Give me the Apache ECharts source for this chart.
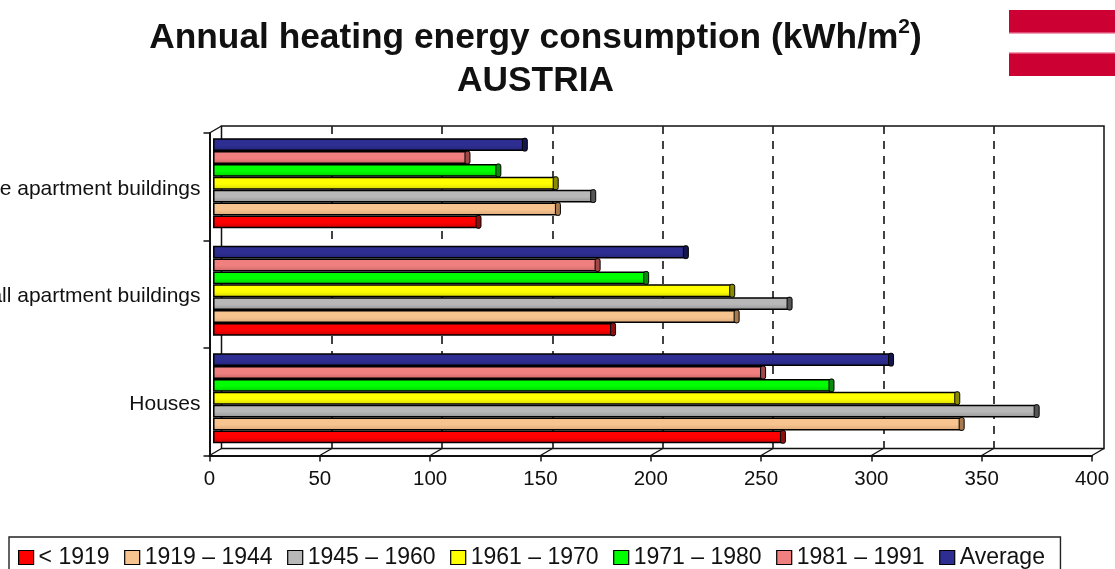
<!DOCTYPE html>
<html><head><meta charset="utf-8">
<style>html,body{margin:0;padding:0;background:#fff;overflow:hidden}#c{width:1115px;height:569px}</style>
<script src="https://cdn.jsdelivr.net/npm/echarts@6/dist/echarts.min.js"></script>
</head><body><div id="c"></div>
<script>
const categories = ['Houses', 'Small apartment buildings', 'Large apartment buildings'];
const xTicks = [0, 50, 100, 150, 200, 250, 300, 350, 400];
const periods = ['< 1919', '1919 – 1944', '1945 – 1960', '1961 – 1970', '1971 – 1980', '1981 – 1991', 'Average'];
const before1919 = [259, 182, 121];
const y1919to1944 = [340, 238, 157];
const y1945to1960 = [374, 262, 173];
const y1961to1970 = [338, 236, 156];
const y1971to1980 = [281, 197, 130];
const y1981to1991 = [250, 175, 116];
const average = [308, 215, 142];
const allValues = [before1919, y1919to1944, y1945to1960, y1961to1970, y1971to1980, y1981to1991, average];
const colors = ['#ff0000', '#f7c490', '#b8b8b8', '#ffff00', '#00ff00', '#f08080', '#2e2e92'];
const capColors = ['#8c1010', '#a87a50', '#555555', '#8a8a00', '#0a8a0a', '#a04848', '#15154d'];
const darkBottom = ['#c80000', '#dba878', '#959595', '#d8d800', '#00cc00', '#cc6666', '#24247a'];

const W = 882.5, H = 322.5, FL = 209.5, FT = 133;
const DX = 12, DY = -7;
const GAP = 16.3;
const ink = '#111';
const font = '"Liberation Sans", Arial, sans-serif';

const chart = echarts.init(document.getElementById('c'), null, {renderer: 'canvas'});

const barSeries = periods.map((p, i) => ({
  type: 'bar', name: p, xAxisIndex: 2, yAxisIndex: 2, barGap: 0, barCategoryGap: GAP + '%',
  z: 5, data: allValues[i],
  itemStyle: {
    borderColor: '#000', borderWidth: 1.5,
    color: {type: 'linear', x: 0, y: 0, x2: 0, y2: 1, colorStops: [
      {offset: 0, color: colors[i]}, {offset: 0.55, color: colors[i]}, {offset: 1, color: darkBottom[i]}]}
  }
})).reverse();

const capSeries = {
  type: 'custom', xAxisIndex: 2, yAxisIndex: 2, z: 6, silent: true,
  data: allValues.flatMap((vals, i) => vals.map((v, c) => [v, c, i])),
  encode: {x: 0, y: 1},
  renderItem(params, api) {
    const i = api.value(2);
    const p = api.coord([api.value(0), api.value(1)]);
    const band = api.size([0, 1])[1];
    const h = band * (1 - GAP / 100) / 7;
    const top = p[1] - h * 3.5 + (6 - i) * h;
    return {type: 'rect', shape: {x: p[0] - 4, y: top, width: 5, height: h, r: 2},
      style: {fill: capColors[i], stroke: '#000', lineWidth: 1}};
  }
};

const depthSeries = {
  type: 'custom', xAxisIndex: 0, yAxisIndex: 0, z: 3, silent: true,
  data: xTicks.map(v => [v, 0]),
  encode: {x: 0, y: 1},
  renderItem(params, api) {
    const x = api.coord([api.value(0), 0])[0];
    const s = params.coordSys;
    const bottom = s.y + s.height;
    const kids = [{type: 'line', shape: {x1: x, y1: bottom, x2: x + DX, y2: bottom + DY},
      style: {stroke: ink, lineWidth: 1.4}}];
    if (api.value(0) === xTicks[0]) {
      kids.push({type: 'line', shape: {x1: x, y1: s.y, x2: x + DX, y2: s.y + DY},
        style: {stroke: ink, lineWidth: 1.4}});
    }
    return {type: 'group', children: kids};
  }
};

const valueAxis = (extra) => Object.assign({type: 'value', min: 0, max: 400, interval: 50}, extra);
const catAxis = (extra) => Object.assign({type: 'category', data: categories}, extra);

chart.setOption({
  animation: false,
  backgroundColor: '#fff',
  title: {
    left: 530.5, textAlign: 'center', top: 12,
    text: '{t|Annual heating energy consumption (kWh/m}{s|2}{t|)}\n{t|AUSTRIA}',
    textStyle: {rich: {
      t: {fontFamily: font, fontWeight: 'bold', fontSize: 35.3, color: '#111', lineHeight: 43},
      s: {fontFamily: font, fontWeight: 'bold', fontSize: 21, color: '#111', verticalAlign: 'top', lineHeight: 43, padding: [0, 0, 14, 0]}
    }}
  },
  legend: {
    left: 9, top: 537, orient: 'horizontal',
    data: periods.map((p, i) => ({name: p, icon: 'rect',
      itemStyle: {color: colors[i], borderColor: '#000', borderWidth: 1.2}})),
    itemWidth: 15, itemHeight: 14, itemGap: 14.5,
    padding: [9, 15.5, 12, 9],
    borderColor: '#222', borderWidth: 1.4,
    selectedMode: false,
    textStyle: {fontFamily: font, fontSize: 23, color: '#111'}
  },
  grid: [
    {left: FL, top: FT, width: W, height: H, show: false, outerBoundsMode: 'none'},
    {left: FL + DX, top: FT + DY, width: W, height: H, show: true, borderColor: ink, borderWidth: 1.5, backgroundColor: 'transparent', z: 0, outerBoundsMode: 'none'},
    {left: FL + DX / 3.4, top: FT + DY / 2, width: W, height: H, show: false, outerBoundsMode: 'none'}
  ],
  xAxis: [
    valueAxis({gridIndex: 0, axisLine: {show: true, lineStyle: {color: ink, width: 2}},
      axisTick: {show: true, length: 6, lineStyle: {color: ink, width: 1.5}},
      axisLabel: {fontFamily: font, fontSize: 20.5, color: '#111', margin: 13, showMinLabel: true, showMaxLabel: true},
      splitLine: {show: false}}),
    valueAxis({gridIndex: 1, axisLine: {show: false}, axisTick: {show: false}, axisLabel: {show: false},
      splitLine: {show: true, showMinLine: false, showMaxLine: false, lineStyle: {color: '#222', width: 1.7, type: [8, 7]}}}),
    valueAxis({gridIndex: 2, axisLine: {show: false}, axisTick: {show: false}, axisLabel: {show: false}, splitLine: {show: false}})
  ],
  yAxis: [
    catAxis({gridIndex: 0, axisLine: {show: true, lineStyle: {color: ink, width: 2}},
      axisTick: {show: true, length: 6, lineStyle: {color: ink, width: 1.5}},
      axisLabel: {fontFamily: font, fontSize: 21, color: '#111', margin: 9, hideOverlap: false, interval: 0, verticalAlign: 'top', lineHeight: 4}, splitLine: {show: false}}),
    catAxis({gridIndex: 1, axisLine: {show: false}, axisTick: {show: false}, axisLabel: {show: false}, splitLine: {show: false}}),
    catAxis({gridIndex: 2, axisLine: {show: false}, axisTick: {show: false}, axisLabel: {show: false}, splitLine: {show: false}})
  ],
  series: [...barSeries, capSeries, depthSeries],
  graphic: [
    {type: 'rect', shape: {x: 1009, y: 10, width: 106, height: 24},
      style: {fill: {type: 'linear', x: 0, y: 0, x2: 0, y2: 1, colorStops: [
        {offset: 0, color: '#cc0033'}, {offset: 0.9, color: '#cc0033'}, {offset: 1, color: '#fbc8d8'}]}}},
    {type: 'rect', shape: {x: 1009, y: 52, width: 106, height: 24},
      style: {fill: {type: 'linear', x: 0, y: 0, x2: 0, y2: 1, colorStops: [
        {offset: 0, color: '#fbc8d8'}, {offset: 0.1, color: '#cc0033'}, {offset: 1, color: '#cc0033'}]}}}
  ]
});
</script></body></html>
